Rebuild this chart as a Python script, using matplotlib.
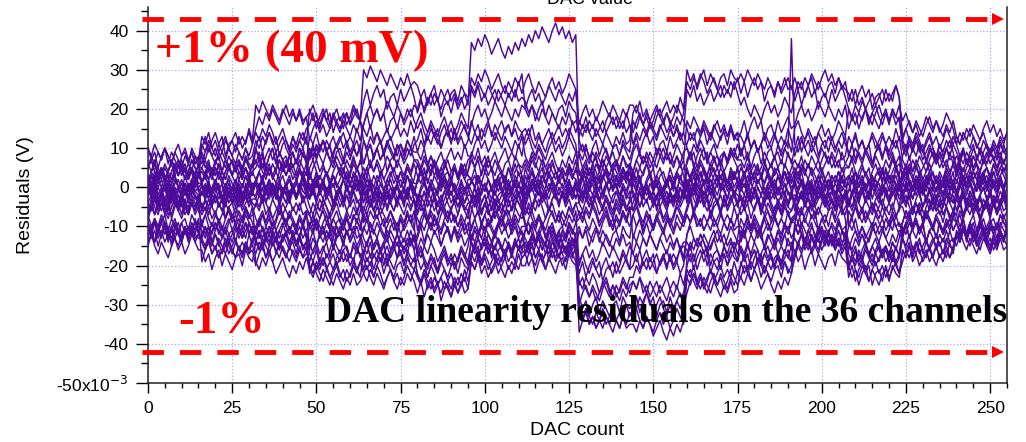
import numpy as np
import matplotlib.pyplot as plt
from matplotlib.ticker import MultipleLocator, FixedLocator, FixedFormatter

plt.rcParams['font.family'] = 'Liberation Sans'

# residual level (mV) of each channel on each block of 16 DAC codes
LEVELS = [
    [4, 6, 8, 12, 18, 20, 37, 37, 6, 8, 14, 12, 10, 8, 5, 4],
    [6, 8, 14, 16, 27, 24, 24, 26, 14, 16, 27, 24, 26, 23, 12, 10],
    [8, 12, 18, 18, 22, 20, 28, 22, 18, 20, 28, 26, 22, 20, 16, 12],
    [2, 10, 16, 14, 14, 16, 23, 20, 10, 14, 24, 20, 25, 22, 14, 13],
    [5, 4, 10, 18, 12, 10, 18, 17, 12, 18, 13, 14, 18, 16, 10, 8],
    [3, 8, 12, 8, 16, 14, 15, 14, 16, 12, 10, 8, 14, 18, 8, 6],
    [7, 6, 6, 10, 8, 12, 12, 10, 8, 10, 12, 10, 8, 12, 12, 9],
    [0, 2, 4, 6, 10, 8, 10, 8, 4, 6, 8, 6, 10, 6, 4, 2],
    [1, 5, 8, 4, 6, 4, 8, 12, 2, 4, 6, 8, 4, 10, 6, 5],
    [4, 0, 2, 8, 4, 6, 6, 4, 6, 2, 4, 2, 6, 4, 8, 6],
    [-2, 3, 6, 2, 2, 2, 4, 6, 0, 5, 2, 4, 2, 2, 2, 3],
    [2, 1, 0, 4, 0, 4, 2, 2, 3, 0, 6, 0, 4, 6, 0, 1],
    [-1, -2, 3, 0, 5, 0, 0, 3, -2, 2, 0, 2, 0, 0, 3, 0],
    [3, 0, -2, 2, -2, 2, 2, -1, 2, -2, 3, -2, 2, 2, -1, 2],
    [0, 2, 1, -3, 1, -2, -2, 0, -4, 0, -2, 1, -2, -1, 1, -2],
    [-2, 0, -1, 0, -2, 1, -2, -1, 1, -2, 1, -1, 1, -1, -1, 1],
    [2, -1, -2, -3, 0, -2, 1, -3, -1, 1, -2, 1, -2, 2, -2, -1],
    [-3, -1, 1, -1, -4, -4, -4, 0, -4, -3, 0, -3, 0, -3, 1, 0],
    [-1, -3, -4, -5, -1, -1, -1, -4, 0, -1, -4, -1, -4, 0, -3, -2],
    [-4, -2, -1, -2, -6, -6, -5, -2, -5, -5, -3, -5, -1, -4, -2, -3],
    [0, -4, -6, -7, -3, -7, -3, -6, -3, -7, -6, -2, -6, -6, -4, -1],
    [-5, -5, -3, -4, -8, -3, -7, -5, -7, -4, -1, -6, -3, -2, -5, -4],
    [-2, -6, -8, -9, -5, -9, -4, -8, -9, -9, -8, -4, -2, -8, -2, -6],
    [-6, -7, -5, -6, -10, -5, -9, -10, -6, -11, -5, -8, -7, -5, -7, -5],
    [-7, -8, -10, -11, -7, -11, -6, -11, -12, -8, -10, -10, -5, -10, -8, -7],
    [-5, -11, -14, -10, -14, -11, -14, -9, -18, -16, -14, -9, -11, -9, -12, -10],
    [-9, -12, -9, -15, -11, -16, -11, -16, -14, -18, -10, -14, -12, -14, -8, -11],
    [-10, -8, -13, -12, -16, -13, -16, -12, -20, -20, -16, -11, -10, -16, -14, -12],
    [-11, -14, -15, -17, -13, -18, -13, -17, -22, -15, -18, -16, -14, -11, -11, -8],
    [-6, -13, -11, -18, -18, -15, -15, -14, -24, -22, -13, -18, -9, -18, -13, -13],
    [-12, -15, -16, -20, -15, -20, -17, -18, -26, -25, -20, -14, -15, -20, -15, -11],
    [-13, -10, -17, -16, -20, -22, -18, -15, -28, -27, -22, -20, -16, -22, -16, -14],
    [-14, -16, -18, -22, -17, -24, -19, -19, -30, -29, -24, -22, -13, -14, -12, -10],
    [-15, -18, -14, -21, -22, -26, -16, -16, -33, -31, -25, -23, -18, -21, -18, -15],
    [-12, -12, -19, -24, -23, -27, -20, -18, -35, -34, -26, -21, -17, -23, -17, -12],
    [-9, -17, -12, -14, -20, -19, -12, -13, -35, -35, -18, -16, -12, -19, -10, -9],
]

# code-to-code ripple shapes (mV) inside a block of 16 codes
WIGGLE = [
    [0, 3, -1, 2, 4, 1, 3, -2, 1, 2, -1, 3, 0, 2, 4, 1],
    [2, -1, 1, -3, 0, 2, -2, 1, -1, -3, 0, 1, -2, 2, 0, -1],
    [-2, 1, 3, 0, 2, -1, 1, 4, 2, 0, 3, 1, -1, 2, 0, 3],
    [1, 3, 0, -2, 1, -1, -3, 0, 2, -1, 1, -2, 0, 3, 1, -1],
    [0, -2, 1, -1, 2, 0, -3, -1, 1, -2, -4, -1, -3, 0, -2, 1],
    [3, 1, 4, 2, 0, 3, 1, -1, 2, 0, -2, 1, -1, 2, -1, 0],
    [-1, 2, 0, 3, 1, 4, 2, 0, 3, 5, 2, 4, 1, 3, 0, 2],
    [1, -1, 2, -2, 0, -3, -1, 1, -2, 0, 2, -1, 1, -1, 3, 0],
]

# which ripple shape each channel shows on each block
PICK = [
    "3517204613572046", "6240517362401735", "1753064227150436", "4062735115736024",
    "7301462553102647", "2546031776403152", "5174206330625741", "0635172442170563",
    "6412057334016275", "3760241551427306", "1207365446215730", "4573610227304615",
    "7026453110657342", "2351704665137024", "5630127447261053", "0417536224753160",
    "6105347221635704", "3472061557041236", "1364725004572613", "4710263556312047",
    "7254130663041572", "2603571440156237", "5041627331764250", "0576312442036715",
    "6327450113542760", "3150764226471503", "1726043557203461", "4265701330625174",
    "7412536005147326", "2037165446310752", "5764210337052614", "0351647225706143",
    "6523074114365207", "3106452770241365", "1645307223516074", "4270136554073621",
]

# single glitch seen on one channel
SPIKE_CH = 6
SPIKE_CODE = 191
SPIKE_MV = 38

LIMIT_HI = 43
LIMIT_LO = -42

codes = np.arange(256)
purple = '#4b0a98'

fig = plt.figure(figsize=(10.26, 4.42), dpi=100)
ax = fig.add_axes([0.1442, 0.1335, 0.8373, 0.85])

for ch in range(36):
    y = np.array([LEVELS[ch][c // 16] + WIGGLE[int(PICK[ch][c // 16])][c % 16] for c in codes], dtype=float)
    if ch == SPIKE_CH:
        y[SPIKE_CODE] = SPIKE_MV
    ax.plot(codes, y, color=purple, lw=1.05, zorder=3)

ax.set_xlim(0, 255)
ax.set_ylim(-50, 46)

# +-1% limit lines with arrow heads
for lev in (LIMIT_HI, LIMIT_LO):
    ax.plot([-1.8, 249], [lev, lev], color='red', lw=3.5, ls=(0, (4.4, 3.3)),
            clip_on=False, zorder=5, solid_capstyle='butt', dash_capstyle='butt')
    ax.plot([252.3], [lev], marker='>', color='red', ms=8, mew=0, clip_on=False, zorder=5)

ax.xaxis.set_major_locator(MultipleLocator(25))
ax.xaxis.set_minor_locator(MultipleLocator(5))
yt = [-50, -40, -30, -20, -10, 0, 10, 20, 30, 40]
ax.yaxis.set_major_locator(FixedLocator(yt))
ax.yaxis.set_major_formatter(FixedFormatter(['-50x10$^{-3}$'] + [str(v) for v in yt[1:]]))
ax.yaxis.set_minor_locator(MultipleLocator(5))

ax.grid(True, which='major', color='#a8a8f5', ls=':', lw=0.9, zorder=0)
ax.spines['top'].set_visible(False)
for s in ('left', 'bottom', 'right'):
    ax.spines[s].set_linewidth(1.1)
    ax.spines[s].set_color('#222222')

ax.tick_params(axis='y', which='major', direction='out', length=9, width=1, pad=5, labelsize=12.5)
ax.tick_params(axis='y', which='minor', direction='out', length=5, width=1)
ax.tick_params(axis='x', which='major', direction='out', length=7, width=1, pad=6, labelsize=12.5)
ax.tick_params(axis='x', which='minor', direction='out', length=3.6, width=1)

ax.set_xlabel('DAC count', fontsize=14)
ax.xaxis.set_label_coords(0.5, -0.105)
ax.set_ylabel('Residuals (V)', fontsize=14)
ax.yaxis.set_label_coords(-0.133, 0.5)
fig.text(0.575, 1.0, 'DAC value', ha='center', va='center', fontsize=13)

ax.text(2.1, 32.1, '+1% (40 mV)', color='red', fontsize=34, fontweight='bold',
        family='Liberation Serif', va='baseline', ha='left', zorder=6)
ax.text(8.9, -37.2, '-1%', color='red', fontsize=34, fontweight='bold',
        family='Liberation Serif', va='baseline', ha='left', zorder=6)
ax.text(255, -34.5, 'DAC linearity residuals on the 36 channels', color='black', fontsize=27,
        fontweight='bold', family='Liberation Serif', va='baseline', ha='right', zorder=6)

fig.savefig('out.png', dpi=100)
